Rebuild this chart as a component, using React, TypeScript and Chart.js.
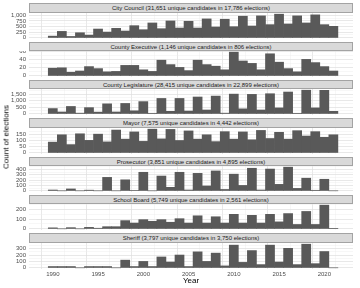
import React, { useEffect, useRef } from "react";
import { Chart, registerables } from "chart.js";

Chart.register(...registerables);

// ---------- data ----------
const years = [
  1990, 1991, 1992, 1993, 1994, 1995, 1996, 1997, 1998, 1999, 2000, 2001, 2002, 2003, 2004, 2005,
  2006, 2007, 2008, 2009, 2010, 2011, 2012, 2013, 2014, 2015, 2016, 2017, 2018, 2019, 2020, 2021,
];

const cityCouncil = [
  75, 284, 60, 224, 120, 388, 254, 418, 300, 537, 358, 657, 403, 746, 433, 731,
  433, 836, 478, 821, 492, 955, 522, 970, 582, 1045, 612, 970, 657, 1015, 582, 507,
];
const countyExecutive = [
  19, 20, 9, 12, 23, 18, 10, 11, 26, 26, 15, 11, 39, 28, 21, 13,
  39, 28, 24, 15, 59, 37, 31, 15, 55, 34, 18, 10, 41, 33, 23, 12,
];
const countyLegislature = [
  400, 140, 560, 50, 470, 130, 760, 140, 790, 230, 930, 40, 1170, 190, 1170, 210,
  1280, 290, 1350, 50, 1500, 380, 1480, 290, 1530, 450, 1660, 40, 1800, 450, 1790, 190,
];
const mayor = [
  86, 145, 66, 153, 100, 150, 88, 183, 110, 168, 92, 190, 112, 188, 99, 176,
  110, 145, 90, 170, 110, 168, 105, 180, 115, 165, 110, 178, 135, 170, 125, 145,
];
const prosecutor = [
  15, 0, 35, 0, 12, 0, 250, 0, 205, 8, 345, 0, 275, 65, 345, 15,
  325, 90, 370, 25, 310, 100, 420, 15, 405, 120, 440, 45, 235, 10, 215, 0,
];
const schoolBoard = [
  10, 0, 12, 0, 15, 6, 22, 22, 85, 60, 95, 78, 95, 68, 105, 60,
  135, 60, 125, 60, 150, 60, 140, 60, 150, 72, 158, 45, 180, 45, 245, 5,
];
const sheriff = [
  20, 20, 20, 0, 20, 20, 20, 0, 120, 20, 100, 20, 170, 90, 200, 20,
  250, 100, 230, 30, 355, 85, 270, 50, 355, 90, 305, 50, 370, 65, 255, 0,
];

const panelTitles = [
  "City Council (31,651 unique candidates in 17,786 elections)",
  "County Executive (1,146 unique candidates in 806 elections)",
  "County Legislature (28,415 unique candidates in 22,899 elections)",
  "Mayor (7,575 unique candidates in 4,442 elections)",
  "Prosecutor (3,851 unique candidates in 4,895 elections)",
  "School Board (5,749 unique candidates in 2,561 elections)",
  "Sheriff (3,797 unique candidates in 3,750 elections)",
];

const cityCouncilTicks = [0, 250, 500, 750, 1000];
const countyExecutiveTicks = [0, 20, 40, 60];
const countyLegislatureTicks = [0, 500, 1000, 1500];
const mayorTicks = [0, 50, 100, 150];
const prosecutorTicks = [0, 100, 200, 300, 400];
const schoolBoardTicks = [0, 100, 200];
const sheriffTicks = [0, 100, 200, 300];

const xTickYears = [1990, 1995, 2000, 2005, 2010, 2015, 2020];

const panels = [
  { title: panelTitles[0], values: cityCouncil, ticks: cityCouncilTicks },
  { title: panelTitles[1], values: countyExecutive, ticks: countyExecutiveTicks },
  { title: panelTitles[2], values: countyLegislature, ticks: countyLegislatureTicks },
  { title: panelTitles[3], values: mayor, ticks: mayorTicks },
  { title: panelTitles[4], values: prosecutor, ticks: prosecutorTicks },
  { title: panelTitles[5], values: schoolBoard, ticks: schoolBoardTicks },
  { title: panelTitles[6], values: sheriff, ticks: sheriffTicks },
];

// ---------- styling / layout ----------
const FONT = "'Liberation Sans', Arial, Helvetica, sans-serif";
const BAR_COLOR = "#595959";
const GRID_MAJOR = "#DEDEDE";
const GRID_MINOR = "#EEEEEE";
const TICK_COLOR = "#4D4D4D";
const X_MIN = 1987.37;
const X_MAX = 2023.17;
const PANEL_LEFT = 29;
const PANEL_RIGHT = 353;
const STRIP_TOP0 = 3.3;
const PITCH = 38.33;
const STRIP_H = 9.3;
const PANEL_H = 25.5;
const X_AXIS_H = 10;

function buildXGrid() {
  const out: any[] = [];
  xTickYears.forEach((y) => out.push({ value: y, isMajor: true }));
  const first = xTickYears[0] - 2.5;
  for (let v = first; v <= X_MAX; v += 5) {
    if (v >= X_MIN) out.push({ value: v, isMajor: false });
  }
  return out.sort((a, b) => a.value - b.value);
}

function buildYGrid(majors: number[], yMin: number, yMax: number) {
  const step = majors[1] - majors[0];
  const out: any[] = [];
  majors.forEach((m) => {
    if (m >= yMin && m <= yMax) out.push({ value: m, isMajor: true });
  });
  for (let v = majors[0] - step / 2; v <= yMax; v += step) {
    if (v >= yMin) out.push({ value: v, isMajor: false });
  }
  return out.sort((a, b) => a.value - b.value);
}

function Panel({ title, values, ticks, index, showX }: any) {
  const ref = useRef<HTMLCanvasElement>(null);
  const stripTop = STRIP_TOP0 + PITCH * index;
  const canvasTop = stripTop + STRIP_H;
  const canvasH = PANEL_H + (showX ? X_AXIS_H : 0);

  useEffect(() => {
    if (!ref.current) return;
    const maxV = Math.max(...values);
    const yMin = -0.05 * maxV;
    const yMax = 1.05 * maxV;
    const xGrid = buildXGrid();
    const yGrid = buildYGrid(ticks, yMin, yMax);

    const chart = new Chart(ref.current, {
      type: "bar",
      data: {
        datasets: [
          {
            data: years.map((y, i) => ({ x: y, y: values[i] })),
            backgroundColor: BAR_COLOR,
            borderWidth: 0,
            barPercentage: 1,
            categoryPercentage: 1,
          },
        ],
      },
      options: {
        animation: false,
        responsive: false,
        maintainAspectRatio: false,
        events: [],
        layout: { padding: { left: 0, right: 360 - PANEL_RIGHT, top: 0, bottom: 0 } },
        plugins: { legend: { display: false }, tooltip: { enabled: false }, title: { display: false } },
        scales: {
          x: {
            type: "linear",
            min: X_MIN,
            max: X_MAX,
            bounds: "data",
            offset: false,
            afterBuildTicks: (s: any) => {
              s.ticks = xGrid.map((t) => ({ ...t }));
            },
            afterFit: (s: any) => {
              s.height = showX ? X_AXIS_H : 0;
              s.paddingLeft = 0;
              s.paddingRight = 0;
              s.paddingTop = 0;
              s.paddingBottom = 0;
            },
            border: { display: false },
            grid: {
              drawTicks: false,
              color: (ctx: any) => (ctx.tick && ctx.tick.isMajor ? GRID_MAJOR : GRID_MINOR),
              lineWidth: (ctx: any) => (ctx.tick && ctx.tick.isMajor ? 0.7 : 0.45),
            },
            ticks: {
              display: showX,
              autoSkip: false,
              maxRotation: 0,
              padding: 1.5,
              color: TICK_COLOR,
              font: { family: FONT, size: 6 },
              callback: (v: any, i: number, arr: any[]) => (arr[i] && arr[i].isMajor ? String(v) : ""),
            },
          },
          y: {
            type: "linear",
            min: yMin,
            max: yMax,
            bounds: "data",
            afterBuildTicks: (s: any) => {
              s.ticks = yGrid.map((t) => ({ ...t }));
            },
            afterFit: (s: any) => {
              s.width = PANEL_LEFT;
              s.paddingTop = 0;
              s.paddingBottom = 0;
              s.paddingLeft = 0;
              s.paddingRight = 0;
            },
            border: { display: false },
            grid: {
              drawTicks: false,
              color: (ctx: any) => (ctx.tick && ctx.tick.isMajor ? GRID_MAJOR : GRID_MINOR),
              lineWidth: (ctx: any) => (ctx.tick && ctx.tick.isMajor ? 0.7 : 0.45),
            },
            ticks: {
              autoSkip: false,
              padding: 3,
              color: TICK_COLOR,
              font: { family: FONT, size: 6 },
              callback: (v: any, i: number, arr: any[]) =>
                arr[i] && arr[i].isMajor ? Number(v).toLocaleString("en-US") : "",
            },
          },
        },
      },
    } as any);
    return () => chart.destroy();
  }, []);

  return (
    <>
      <div
        style={{
          position: "absolute",
          left: PANEL_LEFT,
          top: stripTop,
          width: PANEL_RIGHT - PANEL_LEFT,
          height: STRIP_H,
          boxSizing: "border-box",
          background: "#D9D9D9",
          border: "0.6px solid #A3A3A3",
          fontFamily: FONT,
          fontSize: 6,
          lineHeight: `${STRIP_H - 1.2}px`,
          color: "#1A1A1A",
          textAlign: "center",
          whiteSpace: "nowrap",
          overflow: "hidden",
        }}
      >
        {title}
      </div>
      <canvas
        ref={ref}
        width={360}
        height={Math.round(canvasH)}
        style={{
          position: "absolute",
          left: 0,
          top: canvasTop,
          width: 360,
          height: Math.round(canvasH),
          display: "block",
        }}
      />
    </>
  );
}

export default function App() {
  return (
    <div
      style={{
        position: "fixed",
        left: 0,
        top: 0,
        width: 360,
        height: 288,
        background: "#FFFFFF",
        overflow: "hidden",
      }}
    >
      {panels.map((p, i) => (
        <Panel
          key={p.title}
          title={p.title}
          values={p.values}
          ticks={p.ticks}
          index={i}
          showX={i === panels.length - 1}
        />
      ))}
      <div
        style={{
          position: "absolute",
          left: 6,
          top: 137,
          transform: "translate(-50%, -50%) rotate(-90deg)",
          fontFamily: FONT,
          fontSize: 8,
          color: "#000000",
          whiteSpace: "nowrap",
        }}
      >
        Count of elections
      </div>
      <div
        style={{
          position: "absolute",
          left: (PANEL_LEFT + PANEL_RIGHT) / 2,
          top: 280,
          transform: "translate(-50%, -50%)",
          fontFamily: FONT,
          fontSize: 8,
          color: "#000000",
          whiteSpace: "nowrap",
        }}
      >
        Year
      </div>
    </div>
  );
}
